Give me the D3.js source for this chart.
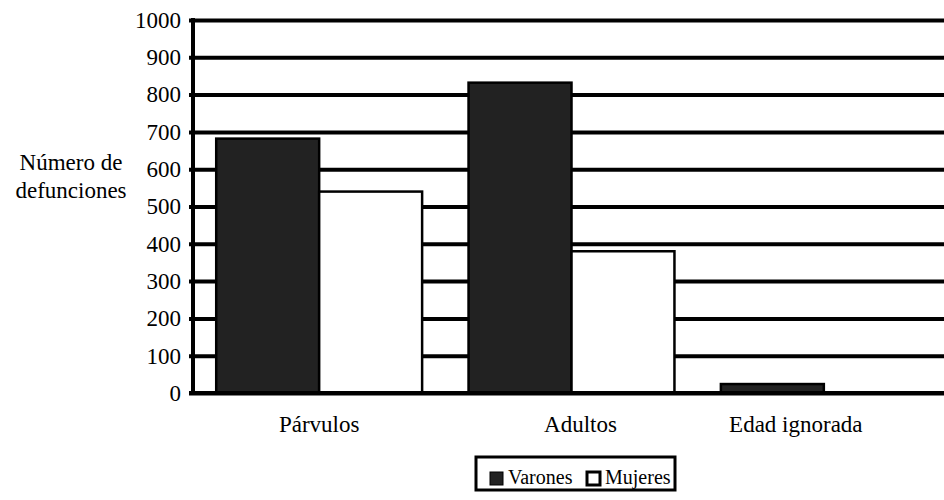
<!DOCTYPE html>
<html>
<head>
<meta charset="utf-8">
<script src="https://cdn.jsdelivr.net/npm/d3@7"></script>
<style>
  html, body { margin: 0; padding: 0; background: #fff; }
  svg { display: block; }
  svg text { font-family: "Liberation Serif", "DejaVu Serif", serif !important; fill: #000; }
</style>
</head>
<body>
<svg id="chart" width="944" height="500"></svg>
<script>
const categories = ["Párvulos", "Adultos", "Edad ignorada"];
const series = ["Varones", "Mujeres"];
const varones = [682, 832, 24];
const mujeres = [540, 380, 1];
const yTicks = [0, 100, 200, 300, 400, 500, 600, 700, 800, 900, 1000];
const yTitle = ["Número de", "defunciones"];

const values = { Varones: varones, Mujeres: mujeres };
const fills = { Varones: "#222222", Mujeres: "#ffffff" };
const FONT = '"Liberation Serif", "DejaVu Serif", serif';

const W = 944, H = 500;
const svg = d3.select("#chart");
svg.append("rect").attr("width", W).attr("height", H).attr("fill", "#fff");

const plotLeft = 193, plotTop = 20, plotBottom = 393;
const y = d3.scaleLinear().domain([0, 1000]).range([plotBottom, plotTop]);
const x0 = d3.scaleBand().domain(categories).range([plotLeft, 950])
  .paddingInner(0.184).paddingOuter(0.092);
const x1 = d3.scaleBand().domain(series).range([0, x0.bandwidth()]);

// grid + y axis
const yAxis = d3.axisLeft(y).tickValues(yTicks).tickFormat(d3.format("d"))
  .tickSizeInner(-(W - plotLeft)).tickSizeOuter(0).tickPadding(12);
const gy = svg.append("g").attr("transform", `translate(${plotLeft},0)`).call(yAxis)
  .attr("font-family", FONT);
gy.select(".domain").remove();
gy.selectAll(".tick line").attr("stroke", "#000").attr("stroke-width", 4).attr("x1", -4);
gy.selectAll(".tick text").attr("font-size", 23).style("font-family", FONT).attr("fill", "#000");

// bars
const groups = svg.append("g").selectAll("g").data(categories).join("g")
  .attr("transform", d => `translate(${x0(d)},0)`);
groups.selectAll("rect").data((c, i) => series.map(s => ({ s, v: values[s][i] }))).join("rect")
  .attr("x", d => x1(d.s))
  .attr("width", x1.bandwidth())
  .attr("y", d => y(d.v))
  .attr("height", d => y(0) - y(d.v))
  .attr("fill", d => fills[d.s])
  .attr("stroke", "#000")
  .attr("stroke-width", 2.5);

// zero line and axis line on top
svg.append("line").attr("x1", plotLeft - 4).attr("x2", W).attr("y1", y(0)).attr("y2", y(0))
  .attr("stroke", "#000").attr("stroke-width", 4);
svg.append("line").attr("x1", plotLeft).attr("x2", plotLeft).attr("y1", y(1000) - 2).attr("y2", y(0) + 2)
  .attr("stroke", "#000").attr("stroke-width", 4);

// category labels (slight per-label nudges as in the original scan)
const labelNudge = [0, 9, -28];
svg.append("g").selectAll("text").data(categories).join("text")
  .attr("x", (d, i) => x0(d) + x0.bandwidth() / 2 + labelNudge[i])
  .attr("y", 432)
  .attr("text-anchor", "middle")
  .attr("font-size", 23)
  .style("font-family", FONT)
  .text(d => d);

// y title
svg.append("g").selectAll("text").data(yTitle).join("text")
  .attr("x", 71)
  .attr("y", (d, i) => 170 + i * 28)
  .attr("text-anchor", "middle")
  .attr("font-size", 23)
  .style("font-family", FONT)
  .text(d => d);

// legend
const lg = svg.append("g");
lg.append("rect").attr("x", 476).attr("y", 457).attr("width", 199).attr("height", 33)
  .attr("fill", "#fff").attr("stroke", "#000").attr("stroke-width", 3);
const itemX = [490, 587];
series.forEach((s, i) => {
  lg.append("rect").attr("x", itemX[i]).attr("y", 472).attr("width", 13).attr("height", 13)
    .attr("fill", fills[s]).attr("stroke", "#000").attr("stroke-width", s === "Mujeres" ? 3 : 1);
  lg.append("text").attr("x", itemX[i] + 18).attr("y", 484).attr("font-size", 20)
    .style("font-family", FONT).text(s);
});
</script>
</body>
</html>
